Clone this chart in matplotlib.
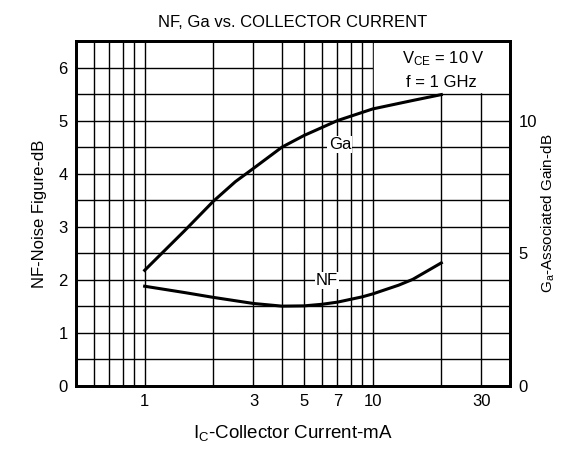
import numpy as np
import matplotlib.pyplot as plt
from matplotlib.ticker import FixedLocator, NullFormatter, NullLocator

plt.rcParams['font.family'] = ['Liberation Sans', 'DejaVu Sans']
plt.rcParams['mathtext.fontset'] = 'custom'
plt.rcParams['mathtext.rm'] = 'Liberation Sans'
plt.rcParams['mathtext.it'] = 'Liberation Sans'

# 读图得到的数据
ic_ga = [1, 1.5, 2, 2.5, 3, 4, 5, 7, 10, 15, 20]
ga = [4.36, 5.86, 6.96, 7.7, 8.2, 9.0, 9.44, 10.0, 10.44, 10.76, 10.98]  # dB (右轴)

ic_nf = [1, 1.5, 2, 3, 4, 5, 6, 7, 9, 10, 13, 15, 20]
nf = [1.88, 1.76, 1.67, 1.555, 1.505, 1.51, 1.54, 1.58, 1.68, 1.735, 1.9, 2.01, 2.32]  # dB

x_ticks = [1, 3, 5, 7, 10, 30]
x_grid = [0.6, 0.7, 0.8, 0.9, 1, 2, 3, 4, 5, 6, 7, 8, 9, 10, 20, 30]

fig = plt.figure(figsize=(5.61, 4.55), dpi=100)
ax = fig.add_axes([0.1355, 0.1516, 0.7735, 0.7583])
ax.set_xscale('log')
ax.set_xlim(0.5, 40)
ax.set_ylim(0, 6.5)

# 网格
for xv in x_grid:
    ax.axvline(xv, color='black', lw=1.0, zorder=1)
for yv in np.arange(0.5, 6.5, 0.5):
    ax.axhline(yv, color='black', lw=1.0, zorder=1)

ax.xaxis.set_major_locator(FixedLocator(x_ticks))
ax.xaxis.set_minor_locator(NullLocator())
ax.xaxis.set_minor_formatter(NullFormatter())
ax.set_xticklabels([str(v) for v in x_ticks])
ax.set_yticks(range(0, 7))
ax.tick_params(length=0, labelsize=12, pad=6)

# 曲线, Ga 用右轴单位 (左轴 = Ga / 2)
ax.plot(ic_ga, np.array(ga) / 2, color='black', lw=2.2, zorder=3)
ax.plot(ic_nf, nf, color='black', lw=2.2, zorder=3)

ax.text(7.18, 4.55, 'Ga', fontsize=12, ha='center', va='center', zorder=4,
        bbox=dict(facecolor='white', edgecolor='none', pad=1))
ax.text(6.3, 1.99, 'NF', fontsize=12, ha='center', va='center', zorder=4,
        bbox=dict(facecolor='white', edgecolor='none', pad=1))

# 条件框
ax.fill_between([10.1, 39.6], 5.53, 6.47, color='white', zorder=2)
ax.text(20.5, 6.17, 'V$_{\\mathregular{CE}}$ = 10 V', fontsize=12,
        ha='center', va='center', zorder=4)
ax.text(20, 5.72, 'f = 1 GHz', fontsize=12, ha='center', va='center', zorder=4)

for s in ax.spines.values():
    s.set_linewidth(2)
    s.set_zorder(5)

ax2 = ax.twinx()
ax2.set_ylim(0, 13)
ax2.set_yticks([0, 5, 10])
ax2.tick_params(length=0, labelsize=12, pad=6)
ax2.set_ylabel('G$_{\\mathregular{a}}$-Associated Gain-dB', fontsize=11, labelpad=2)
for s in ax2.spines.values():
    s.set_linewidth(2)

ax.set_title('NF, Ga vs. COLLECTOR CURRENT', fontsize=12, pad=10)
ax.set_xlabel('I$_{\\mathregular{C}}$-Collector Current-mA', fontsize=13.5, labelpad=10)
ax.set_ylabel('NF-Noise Figure-dB', fontsize=12, labelpad=8)

plt.savefig('out.png', dpi=100)
